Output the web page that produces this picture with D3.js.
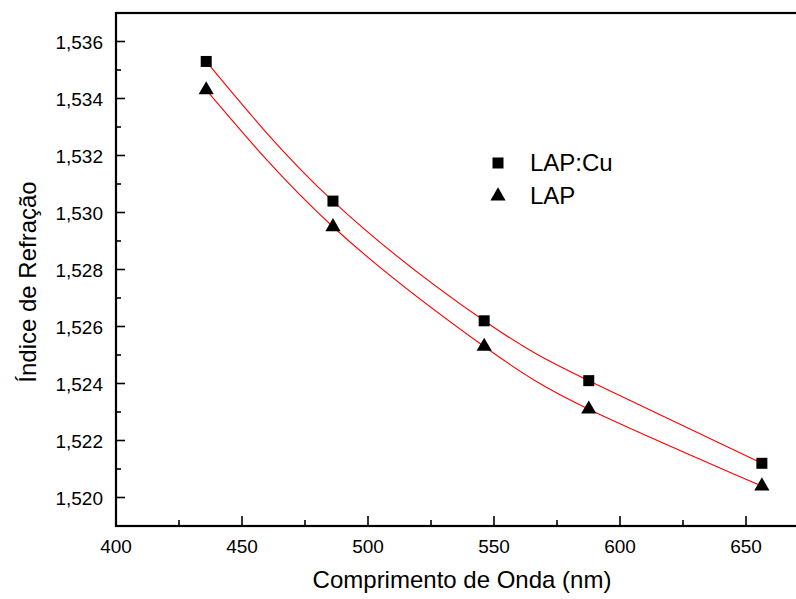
<!DOCTYPE html>
<html>
<head>
<meta charset="utf-8">
<script src="https://cdn.jsdelivr.net/npm/d3@7"></script>
<style>
html,body{margin:0;padding:0;background:#fff;}
svg{display:block;font-family:"Liberation Sans",Arial,sans-serif;}
</style>
</head>
<body>
<svg id="chart" width="796" height="599"></svg>
<script>
const wavelengths = [435.8, 486.1, 546.1, 587.6, 656.3];
const lapCu = [1.5353, 1.5304, 1.5262, 1.5241, 1.5212];
const lap   = [1.5343, 1.5295, 1.5253, 1.5231, 1.5204];
const seriesNames = ["LAP:Cu", "LAP"];
const xTicks = [400, 450, 500, 550, 600, 650];
const yTicks = [1.520, 1.522, 1.524, 1.526, 1.528, 1.530, 1.532, 1.534, 1.536];
const xTitle = "Comprimento de Onda (nm)";
const yTitle = "Índice de Refração";

const svg = d3.select("#chart");
const mLeft = 116, mTop = 13, mBottom = 526;
const x = d3.scaleLinear().domain([400, 672]).range([mLeft, mLeft + 272 * 2.52]);
const y = d3.scaleLinear().domain([1.519, 1.537]).range([mBottom, mTop]);
const mRight = x(672);

const fmt = v => d3.format(".3f")(v).replace(".", ",");

const xMinor = d3.range(425, 672, 50);
const yMinor = d3.range(0, 9).map(i => 1.519 + i * 0.002);

const axisG = svg.append("g");
axisG.selectAll(".xt").data(xTicks).join("line")
  .attr("x1", d => x(d)).attr("x2", d => x(d))
  .attr("y1", mBottom).attr("y2", mBottom - 10)
  .attr("stroke", "#000").attr("stroke-width", 1.6);
axisG.selectAll(".xm").data(xMinor).join("line")
  .attr("x1", d => x(d)).attr("x2", d => x(d))
  .attr("y1", mBottom).attr("y2", mBottom - 6)
  .attr("stroke", "#000").attr("stroke-width", 1.6);
axisG.selectAll(".yt").data(yTicks).join("line")
  .attr("x1", mLeft).attr("x2", mLeft + 9)
  .attr("y1", d => y(d)).attr("y2", d => y(d))
  .attr("stroke", "#000").attr("stroke-width", 1.6);
axisG.selectAll(".ym").data(yMinor).join("line")
  .attr("x1", mLeft).attr("x2", mLeft + 5)
  .attr("y1", d => y(d)).attr("y2", d => y(d))
  .attr("stroke", "#000").attr("stroke-width", 1.6);

svg.append("rect")
  .attr("x", mLeft).attr("y", mTop)
  .attr("width", mRight - mLeft).attr("height", mBottom - mTop)
  .attr("fill", "none").attr("stroke", "#000").attr("stroke-width", 2.2);

svg.append("g").selectAll("text").data(xTicks).join("text")
  .attr("x", d => x(d)).attr("y", 553)
  .attr("text-anchor", "middle").attr("font-size", 19)
  .text(d => d);
svg.append("g").selectAll("text").data(yTicks).join("text")
  .attr("x", 103).attr("y", d => y(d) + 7)
  .attr("text-anchor", "end").attr("font-size", 19)
  .text(d => fmt(d));

svg.append("text").attr("x", 462).attr("y", 588)
  .attr("text-anchor", "middle").attr("font-size", 24)
  .text(xTitle);
svg.append("text")
  .attr("transform", "translate(36,282) rotate(-90)")
  .attr("text-anchor", "middle").attr("font-size", 24)
  .text(yTitle);

const line = d3.line().x(d => x(d[0])).y(d => y(d[1])).curve(d3.curveNatural);
[lapCu, lap].forEach(vals => {
  svg.append("path")
    .datum(wavelengths.map((w, i) => [w, vals[i]]))
    .attr("d", line)
    .attr("fill", "none").attr("stroke", "#ff0000").attr("stroke-width", 1.1);
});

const sq = d3.symbol().type(d3.symbolSquare).size(121);
const tri = d3.symbol().type(d3.symbolTriangle).size(100);
svg.append("g").selectAll("path").data(wavelengths.map((w, i) => [w, lapCu[i]])).join("path")
  .attr("transform", d => `translate(${x(d[0])},${y(d[1])})`)
  .attr("d", sq).attr("fill", "#000");
svg.append("g").selectAll("path").data(wavelengths.map((w, i) => [w, lap[i]])).join("path")
  .attr("transform", d => `translate(${x(d[0])},${y(d[1])})`)
  .attr("d", tri).attr("fill", "#000");

const lg = svg.append("g");
lg.append("path").attr("transform", "translate(498,163)").attr("d", sq).attr("fill", "#000");
lg.append("path").attr("transform", "translate(498,196)").attr("d", tri).attr("fill", "#000");
lg.append("text").attr("x", 530).attr("y", 171).attr("font-size", 24).text(seriesNames[0]);
lg.append("text").attr("x", 530).attr("y", 204).attr("font-size", 24).text(seriesNames[1]);
</script>
</body>
</html>
